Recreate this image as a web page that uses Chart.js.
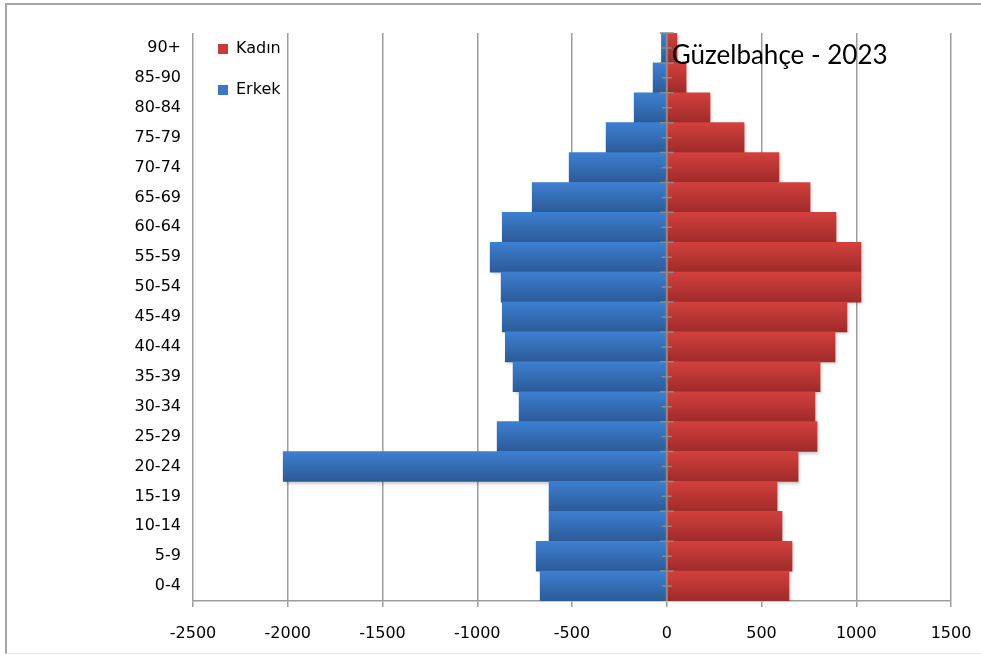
<!DOCTYPE html>
<html>
<head>
<meta charset="utf-8">
<script src="https://cdn.jsdelivr.net/npm/chart.js@4.4.0/dist/chart.umd.min.js"></script>
<style>
    html, body { margin: 0; padding: 0; background: #fff; }
    #wrap { position: relative; width: 981px; height: 655px; overflow: hidden; }
    #frame { position: absolute; left: 5px; top: 3px; width: 990px; height: 648px;
             border-top: 2px solid #a6a6a6; border-left: 2px solid #a6a6a6; border-bottom: 1px solid #e8e8e8; }
    canvas { position: absolute; left: 0; top: 0; }
</style>
</head>
<body>
<div id="wrap">
    <div id="frame"></div>
    <canvas id="pyramid" width="981" height="655"></canvas>
</div>
<script>
const ageGroups = ['90+', '85-90', '80-84', '75-79', '70-74', '65-69', '60-64', '55-59', '50-54', '45-49',
                   '40-44', '35-39', '30-34', '25-29', '20-24', '15-19', '10-14', '5-9', '0-4'];
const femaleCounts = [54, 102, 228, 408, 592, 756, 893, 1025, 1025, 951,
                      888, 809, 782, 793, 693, 582, 608, 661, 645];
// men are plotted to the left, so negative
const maleCounts = [-28, -72, -172, -320, -515, -710, -868, -932, -874, -868,
                    -852, -811, -779, -895, -2024, -621, -621, -689, -668];
const axisMin = -2500;
const axisMax = 1500;
const axisStep = 500;
const chartTitle = 'Güzelbahçe - 2023';

const chartCanvas = document.getElementById('pyramid');
const labelFont = { family: "'DejaVu Sans', sans-serif", size: 16 };

// vertical gradient over each bar, lighter on top
function barFill(topColor, bottomColor) {
    return function (context) {
        const chart = context.chart;
        const yScale = chart.scales.y;
        if (context.type !== 'data' || !yScale || !chart.chartArea) return topColor;
        const center = yScale.getPixelForValue(context.dataIndex);
        const half = Math.abs(yScale.getPixelForValue(1) - yScale.getPixelForValue(0)) / 2;
        const g = chart.ctx.createLinearGradient(0, center - half, 0, center + half);
        g.addColorStop(0, topColor);
        g.addColorStop(1, bottomColor);
        return g;
    };
}

const barShadow = {
    id: 'barShadow',
    beforeDatasetsDraw(chart) {
        const ctx = chart.ctx;
        ctx.save();
        ctx.shadowColor = 'rgba(0, 0, 0, 0.22)';
        ctx.shadowBlur = 3;
        ctx.shadowOffsetX = 2;
        ctx.shadowOffsetY = 2;
    },
    afterDatasetsDraw(chart) {
        chart.ctx.restore();
    }
};

// the vertical axis sits at zero with crossing tick marks
const zeroAxis = {
    id: 'zeroAxis',
    afterDatasetsDraw(chart) {
        const ctx = chart.ctx;
        const area = chart.chartArea;
        const yScale = chart.scales.y;
        const x0 = chart.scales.x.getPixelForValue(0);
        const half = Math.abs(yScale.getPixelForValue(1) - yScale.getPixelForValue(0)) / 2;
        ctx.save();
        ctx.strokeStyle = '#8a8a8a';
        ctx.lineWidth = 2;
        ctx.beginPath();
        ctx.moveTo(x0, area.top);
        ctx.lineTo(x0, area.bottom);
        ctx.stroke();
        ctx.lineWidth = 1.5;
        for (let i = 0; i < ageGroups.length; i++) {
            const c = yScale.getPixelForValue(i);
            ctx.beginPath();
            ctx.moveTo(x0 - 7, c - half);
            ctx.lineTo(x0 + 7, c - half);
            ctx.moveTo(x0 - 5, c);
            ctx.lineTo(x0 + 5, c);
            ctx.stroke();
        }
        ctx.restore();
    }
};

const titleText = {
    id: 'titleText',
    afterLayout(chart) {
        // vertical legend resets its top to 0, put it in the top corner of the plot
        if (chart.legend) chart.legend.top = 16;
    },
    afterDraw(chart) {
        const ctx = chart.ctx;
        const x0 = chart.scales.x.getPixelForValue(0);
        ctx.save();
        ctx.font = "26px Lato, 'Open Sans', sans-serif";
        ctx.fillStyle = '#000';
        ctx.textAlign = 'left';
        ctx.textBaseline = 'alphabetic';
        ctx.fillText(chartTitle, x0 + 5, 64);
        ctx.restore();
    }
};

new Chart(chartCanvas.getContext('2d'), {
    type: 'bar',
    data: {
        labels: ageGroups,
        datasets: [
            {
                label: 'Kadın',
                data: femaleCounts,
                backgroundColor: barFill('#d3403d', '#9e2b2a'),
                borderWidth: 0,
                barPercentage: 1,
                categoryPercentage: 1
            },
            {
                label: 'Erkek',
                data: maleCounts,
                backgroundColor: barFill('#3d7fd1', '#2c5a97'),
                borderWidth: 0,
                barPercentage: 1,
                categoryPercentage: 1
            }
        ]
    },
    options: {
        indexAxis: 'y',
        responsive: false,
        animation: false,
        layout: { padding: { left: 5, right: 30, top: 33, bottom: 0 } },
        scales: {
            x: {
                stacked: true,
                min: axisMin,
                max: axisMax,
                afterFit(scale) {
                    scale.height = 54;
                    // label overhang is covered by the layout padding
                    scale.paddingLeft = 0;
                    scale.paddingRight = 0;
                },
                ticks: {
                    stepSize: axisStep,
                    color: '#000',
                    font: labelFont,
                    padding: 17,
                    maxRotation: 0,
                    callback: value => String(value)
                },
                grid: {
                    color: '#9c9c9c',
                    lineWidth: 1.5,
                    drawTicks: true,
                    tickLength: 6
                },
                border: { display: true, color: '#9c9c9c', width: 1.5 }
            },
            y: {
                stacked: true,
                afterFit(scale) { scale.width = 188; },
                ticks: {
                    color: '#000',
                    font: labelFont,
                    padding: 12,
                    autoSkip: false
                },
                grid: { display: false, drawTicks: false },
                border: { display: false }
            }
        },
        plugins: {
            legend: {
                position: 'chartArea',
                align: 'start',
                labels: {
                    boxWidth: 10,
                    boxHeight: 10,
                    padding: 25,
                    color: '#000',
                    font: labelFont,
                    generateLabels(chart) {
                        return [
                            { text: 'Kadın', fillStyle: '#c93b39', strokeStyle: '#c93b39', lineWidth: 0, datasetIndex: 0 },
                            { text: 'Erkek', fillStyle: '#3a78c6', strokeStyle: '#3a78c6', lineWidth: 0, datasetIndex: 1 }
                        ];
                    }
                }
            },
            title: { display: false },
            tooltip: { enabled: false }
        }
    },
    plugins: [barShadow, zeroAxis, titleText]
});
</script>
</body>
</html>
